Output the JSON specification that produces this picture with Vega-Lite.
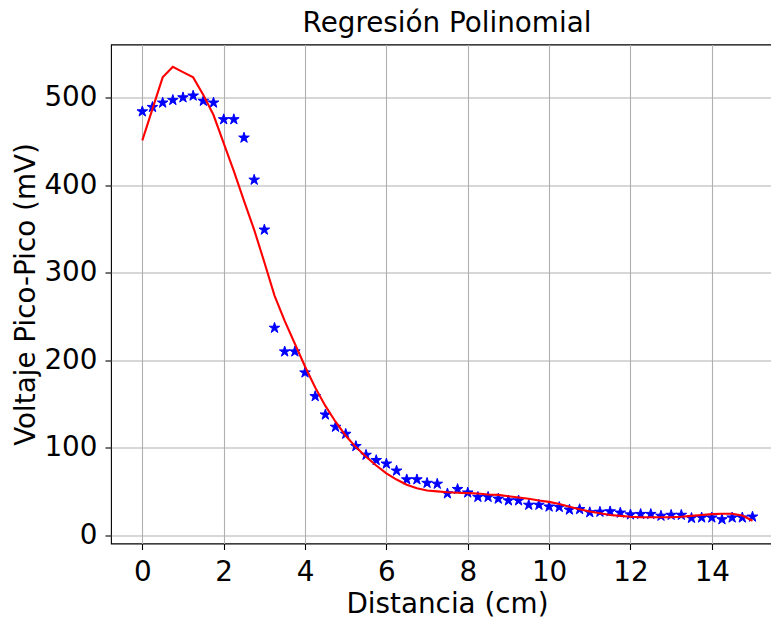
{
  "$schema": "https://vega.github.io/schema/vega-lite/v6.json",
  "autosize": {"type": "none"},
  "padding": {"left": 111, "top": 44.5, "right": 0, "bottom": 75},
  "width": 672,
  "height": 499,
  "background": "white",
  "config": {
    "font": "DejaVu Sans",
    "view": {"stroke": "black", "strokeWidth": 1.1},
    "axis": {
      "domain": false,
      "grid": true,
      "gridColor": "#b0b0b0",
      "gridWidth": 1.1,
      "gridOpacity": 1,
      "tickColor": "black",
      "tickSize": 6,
      "tickWidth": 1.1,
      "labelColor": "black",
      "labelFontSize": 27.8,
      "titleColor": "black",
      "titleFontSize": 27.8,
      "titleFontWeight": "normal"
    }
  },
  "title": {"text": "Regresión Polinomial", "fontSize": 27.8, "fontWeight": "normal", "color": "black", "offset": 7, "anchor": "middle"},
  "data": {"values": [
    {"d": 0, "v": 484, "fit": 451},
    {"d": 0.25, "v": 489, "fit": 487},
    {"d": 0.5, "v": 494, "fit": 523},
    {"d": 0.75, "v": 497, "fit": 535},
    {"d": 1.0, "v": 500, "fit": 529},
    {"d": 1.25, "v": 502, "fit": 523},
    {"d": 1.5, "v": 496, "fit": 503},
    {"d": 1.75, "v": 494, "fit": 480},
    {"d": 2.0, "v": 475, "fit": 448},
    {"d": 2.25, "v": 475, "fit": 416},
    {"d": 2.5, "v": 454, "fit": 382},
    {"d": 2.75, "v": 406, "fit": 349},
    {"d": 3.0, "v": 349, "fit": 312},
    {"d": 3.25, "v": 237, "fit": 274},
    {"d": 3.5, "v": 210, "fit": 245},
    {"d": 3.75, "v": 210, "fit": 219},
    {"d": 4.0, "v": 186, "fit": 193},
    {"d": 4.25, "v": 159, "fit": 169},
    {"d": 4.5, "v": 138, "fit": 148},
    {"d": 4.75, "v": 124, "fit": 130},
    {"d": 5.0, "v": 116, "fit": 114},
    {"d": 5.25, "v": 102, "fit": 101},
    {"d": 5.5, "v": 92, "fit": 90},
    {"d": 5.75, "v": 86, "fit": 80},
    {"d": 6.0, "v": 82, "fit": 71},
    {"d": 6.25, "v": 74, "fit": 64},
    {"d": 6.5, "v": 64, "fit": 58},
    {"d": 6.75, "v": 64, "fit": 54},
    {"d": 7.0, "v": 60, "fit": 51.5},
    {"d": 7.25, "v": 59, "fit": 50.5},
    {"d": 7.5, "v": 48, "fit": 49.5},
    {"d": 7.75, "v": 53, "fit": 49},
    {"d": 8.0, "v": 49, "fit": 48.5},
    {"d": 8.25, "v": 44, "fit": 48},
    {"d": 8.5, "v": 44, "fit": 47},
    {"d": 8.75, "v": 42, "fit": 46.5},
    {"d": 9.0, "v": 40, "fit": 45},
    {"d": 9.25, "v": 40, "fit": 43.5},
    {"d": 9.5, "v": 35, "fit": 42},
    {"d": 9.75, "v": 35, "fit": 40},
    {"d": 10.0, "v": 33, "fit": 38.5},
    {"d": 10.25, "v": 32.5, "fit": 36},
    {"d": 10.5, "v": 29.5, "fit": 33},
    {"d": 10.75, "v": 30, "fit": 30},
    {"d": 11.0, "v": 26.5, "fit": 27.5},
    {"d": 11.25, "v": 27, "fit": 25.5},
    {"d": 11.5, "v": 27.5, "fit": 23.5},
    {"d": 11.75, "v": 26, "fit": 22.5},
    {"d": 12.0, "v": 24, "fit": 21.5},
    {"d": 12.25, "v": 24.5, "fit": 21},
    {"d": 12.5, "v": 24.5, "fit": 21},
    {"d": 12.75, "v": 22.5, "fit": 21},
    {"d": 13.0, "v": 23.5, "fit": 21},
    {"d": 13.25, "v": 23.5, "fit": 21.5},
    {"d": 13.5, "v": 20, "fit": 22.5},
    {"d": 13.75, "v": 20.5, "fit": 23.5},
    {"d": 14.0, "v": 20.5, "fit": 24.5},
    {"d": 14.25, "v": 18.5, "fit": 25},
    {"d": 14.5, "v": 20.5, "fit": 25},
    {"d": 14.75, "v": 20.5, "fit": 23},
    {"d": 15.0, "v": 21.5, "fit": 17}
  ]},
  "layer": [
    {
      "mark": {
        "type": "point",
        "shape": "M0,-1L0.2245,-0.309L0.951,-0.309L0.363,0.118L0.588,0.809L0,0.382L-0.588,0.809L-0.363,0.118L-0.951,-0.309L-0.2245,-0.309Z",
        "filled": true,
        "fill": "#0000ff",
        "stroke": "#0000ff",
        "strokeWidth": 1,
        "opacity": 1,
        "size": 125
      },
      "encoding": {
        "x": {"field": "d", "type": "quantitative", "scale": {"domain": [-0.77, 15.75], "nice": false, "zero": false}, "axis": {"values": [0, 2, 4, 6, 8, 10, 12, 14], "title": "Distancia (cm)", "labelPadding": 9, "titlePadding": 4}},
        "y": {"field": "v", "type": "quantitative", "scale": {"domain": [-9, 560.5], "nice": false, "zero": false}, "axis": {"values": [0, 100, 200, 300, 400, 500], "title": "Voltaje Pico-Pico (mV)", "labelPadding": 8, "titlePadding": 3}}
      }
    },
    {
      "mark": {"type": "line", "color": "#ff0000", "strokeWidth": 2.1},
      "encoding": {
        "x": {"field": "d", "type": "quantitative"},
        "y": {"field": "fit", "type": "quantitative"}
      }
    }
  ]
}
